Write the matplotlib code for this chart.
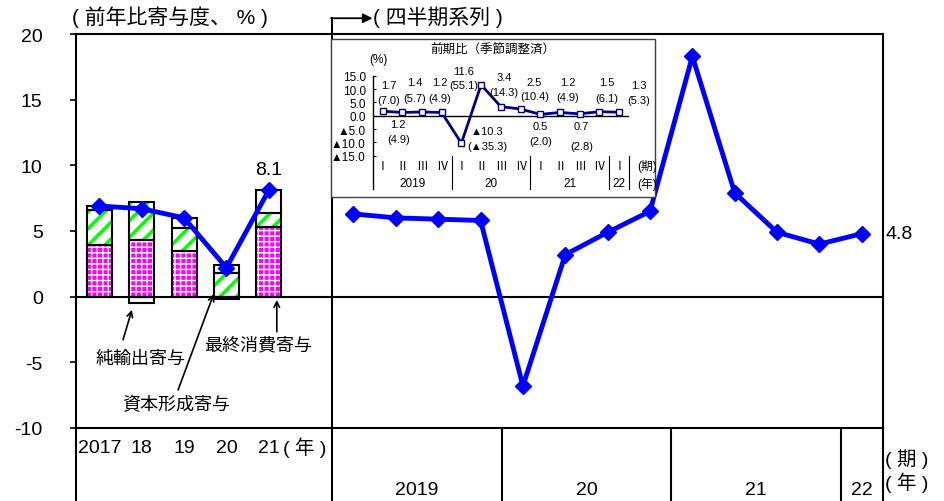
import matplotlib
matplotlib.use("Agg")
import matplotlib.pyplot as plt
from matplotlib.patches import Rectangle

plt.rcParams['font.family'] = ['Liberation Sans', 'Noto Sans CJK JP', 'DejaVu Sans']
plt.rcParams['axes.unicode_minus'] = False

# annual contributions (%)
years = ["2017", "18", "19", "20", "21"]
consumption = [3.9, 4.3, 3.5, -0.2, 5.3]
capital = [2.7, 2.9, 1.7, 1.8, 1.1]
net_exports = [0.3, -0.5, 0.8, 0.6, 1.7]
annual_growth = [6.9, 6.7, 6.0, 2.2, 8.1]

# quarterly yoy (%)
q_years = ["2019", "20", "21", "22"]
q_growth = [6.3, 6.0, 5.9, 5.8, -6.8, 3.2, 4.9, 6.5, 18.3, 7.9, 4.9, 4.0, 4.8]

# inset: qoq seasonally adjusted, and annualized in brackets
q_labels = ["Ⅰ", "Ⅱ", "Ⅲ", "Ⅳ", "Ⅰ", "Ⅱ", "Ⅲ", "Ⅳ", "Ⅰ", "Ⅱ", "Ⅲ", "Ⅳ", "Ⅰ"]
qoq = [1.7, 1.2, 1.4, 1.2, -10.3, 11.6, 3.4, 2.5, 0.5, 1.2, 0.7, 1.5, 1.3]
qoq_ann = [7.0, 4.9, 5.7, 4.9, -35.3, 55.1, 14.3, 10.4, 2.0, 4.9, 2.8, 6.1, 5.3]
# where each inset label sits (x, first line y, second line y)
lab_pos = [(0.3, 11.5, 5.9), (0.8, -3.1, -8.7), (1.65, 12.5, 6.5), (2.9, 12.5, 6.5),
           (5.3, -5.6, -11.5), (4.1, 16.9, 11.5), (6.15, 14.4, 8.8), (7.7, 12.5, 7.5),
           (8.0, -3.7, -9.4), (9.4, 12.5, 7.0), (10.1, -3.7, -11.5), (11.4, 12.5, 6.5),
           (13.0, 11.5, 5.9)]


def fmt(v):
    return ("▲" if v < 0 else "") + f"{abs(v):.1f}"


fig = plt.figure(figsize=(9.45, 5.02), dpi=100)
ax = fig.add_axes([76/945, 73/502, 807/945, 394/502])
ax.set_xlim(-0.55, 18.5)
ax.set_ylim(-10, 20)

xa = list(range(len(years)))
xq = [6 + i for i in range(len(q_growth))]

# stacked bars, positives up and negatives down
pos = [0.0]*len(years)
neg = [0.0]*len(years)
for vals, fc, hc, h, hlw in [(consumption, '#ff00ff', 'white', '+++', 1.0),
                             (capital, 'white', '#00ff00', '//', 2.5),
                             (net_exports, 'white', 'white', None, 1.0)]:
    bottoms = [pos[i] if v >= 0 else neg[i] for i, v in enumerate(vals)]
    with plt.rc_context({'hatch.linewidth': hlw}):
        bars = ax.bar(xa, vals, bottom=bottoms, width=0.59, facecolor=fc, edgecolor=hc,
                      hatch=h, linewidth=0, zorder=2)
        for b in bars:
            if hasattr(b, 'set_hatch_linewidth'):
                b.set_hatch_linewidth(hlw)
    ax.bar(xa, vals, bottom=bottoms, width=0.59, fill=False, edgecolor='black',
           linewidth=1.5, zorder=3)
    for i, v in enumerate(vals):
        if v >= 0:
            pos[i] += v
        else:
            neg[i] += v

ax.axhline(0, color='black', lw=1.5, zorder=4)

ax.plot(xa, annual_growth, color='#0000ff', lw=3.5, marker='D', ms=8, zorder=5)
ax.plot(xq, q_growth, color='#0000ff', lw=3.5, marker='D', ms=8, zorder=5)

ax.text(xa[-1], annual_growth[-1] + 1.6, f"{annual_growth[-1]:.1f}", ha='center',
        va='center', fontsize=14)
ax.text(18.56, q_growth[-1], f"{q_growth[-1]:.1f}", ha='left', va='center', fontsize=14)

for s in ax.spines.values():
    s.set_linewidth(1.5)
ax.set_xticks([])
ax.set_yticks(range(-10, 21, 5))
ax.tick_params(axis='y', direction='out', length=4, width=1.2, labelsize=14, pad=20)

# grid under the axis and the divider
ax.plot([5.5, 5.5], [-16, 21.2], color='black', lw=1.5, clip_on=False, zorder=4)
for xv in [-0.55, 9.5, 13.5, 17.5, 18.5]:
    ax.plot([xv, xv], [-10, -16], color='black', lw=1.5, clip_on=False)
ax.annotate('', xy=(6.45, 21.2), xytext=(5.47, 21.2),
            arrowprops=dict(arrowstyle='-|>', color='black', lw=1.3, mutation_scale=14,
                            shrinkA=0, shrinkB=0), annotation_clip=False)
ax.text(6.45, 21.35, "( 四半期系列 )", ha='left', va='center', fontsize=15, clip_on=False)
ax.text(-0.65, 21.35, "( 前年比寄与度、 % )", ha='left', va='center', fontsize=15, clip_on=False)

for i, y in enumerate(years):
    ax.text(xa[i], -11.45, y, ha='center', va='center', fontsize=14)
ax.text(4.85, -11.45, "( 年 )", ha='center', va='center', fontsize=14)
for xc, y in zip([7.5, 11.5, 15.5, 18.0], q_years):
    ax.text(xc, -14.7, y, ha='center', va='center', fontsize=14, clip_on=False)
ax.text(18.55, -12.3, "( 期 )", ha='left', va='center', fontsize=14, clip_on=False)
ax.text(18.55, -14.1, "( 年 )", ha='left', va='center', fontsize=14, clip_on=False)

# annotations for the bars
arr = dict(arrowstyle='->', color='black', lw=1.2, shrinkA=0, shrinkB=0)
ax.annotate("", xy=(0.77, -1.0), xytext=(0.56, -3.28), arrowprops=arr)
ax.text(0.98, -4.66, "純輸出寄与", ha='center', va='center', fontsize=13)
ax.annotate("", xy=(2.70, 0.2), xytext=(1.86, -7.1), arrowprops=arr)
ax.text(1.81, -8.24, "資本形成寄与", ha='center', va='center', fontsize=13)
ax.annotate("", xy=(4.19, -0.25), xytext=(4.19, -2.67), arrowprops=arr)
ax.text(3.74, -3.66, "最終消費寄与", ha='center', va='center', fontsize=13)

# inset box
fig.patches.append(Rectangle((331/945, 304/502), 324/945, 158/502, transform=fig.transFigure,
                             facecolor='white', edgecolor='#404040', lw=1.0, zorder=1))
ins = fig.add_axes([372.7/945, 312/502, 256.2/945, 113.3/502], zorder=2)
ins.patch.set_alpha(0)
ins.set_xlim(-0.5, 12.5)
ins.set_ylim(-27.5, 15)
for k in ['top', 'right', 'bottom']:
    ins.spines[k].set_visible(False)
ins.spines['left'].set_linewidth(1.0)
ins.set_xticks([])
yt = [15, 10, 5, 0, -5, -10, -15]
ins.set_yticks(yt)
ins.set_yticklabels([fmt(v) for v in yt])
ins.tick_params(axis='y', direction='in', length=2.5, width=0.8, labelsize=8.5, pad=5)
ins.plot([-0.5, 12.5], [0, 0], color='black', lw=1.0)
ins.plot(range(len(qoq)), qoq, color='#000080', lw=2, marker='s', ms=5,
         markerfacecolor='white', markeredgecolor='#000080', mew=1, zorder=3)
for (lx, y1, y2), v, a in zip(lab_pos, qoq, qoq_ann):
    ins.text(lx, y1, fmt(v), ha='center', va='center', fontsize=8, clip_on=False)
    ins.text(lx, y2, "(" + fmt(a) + ")", ha='center', va='center', fontsize=8, clip_on=False)
for xv in [3.5, 7.5, 11.5, 12.5]:
    ins.plot([xv, xv], [-15, -27.5], color='black', lw=0.8, clip_on=False)
for i, q in enumerate(q_labels):
    ins.text(i, -18.75, q, ha='center', va='center', fontsize=8.5)
for xc, y in zip([1.5, 5.5, 9.5, 12.0], q_years):
    ins.text(xc, -25.2, y, ha='center', va='center', fontsize=8.5)
ins.text(13.45, -18.75, "(期)", ha='center', va='center', fontsize=8.5, clip_on=False)
ins.text(13.45, -25.2, "(年)", ha='center', va='center', fontsize=8.5, clip_on=False)
ins.text(5.58, 24.6, "前期比（季節調整済）", ha='center', va='center', fontsize=9, clip_on=False)
ins.text(-0.2, 21.3, "(%)", ha='center', va='center', fontsize=8.5, clip_on=False)

fig.savefig("out.png", dpi=100)
